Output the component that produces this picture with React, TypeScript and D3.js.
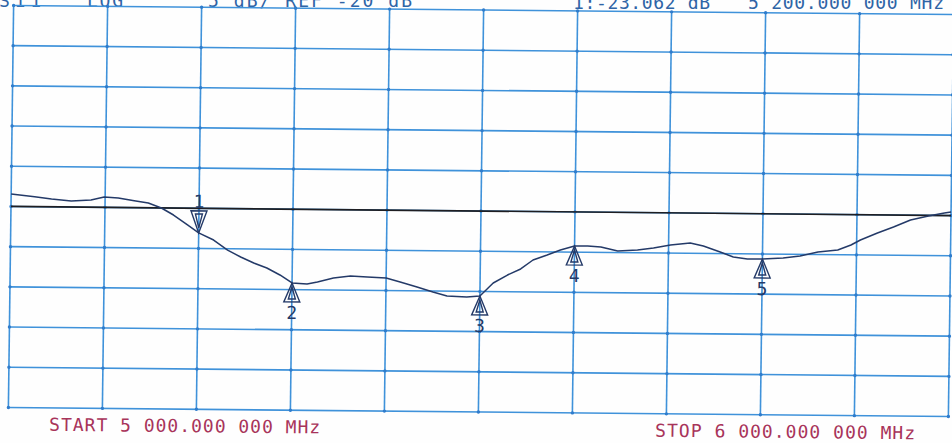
import React from "react";
import * as d3 from "d3";

const freqMHz = [5000, 5025, 5043, 5064, 5085, 5099, 5114, 5131, 5146, 5160, 5173, 5188, 5200, 5216, 5231, 5245, 5259, 5273, 5287, 5300, 5316, 5327, 5344, 5362, 5380, 5400, 5415, 5433, 5450, 5465, 5486, 5500, 5514, 5529, 5543, 5556, 5571, 5585, 5600, 5614, 5628, 5646, 5667, 5684, 5702, 5723, 5737, 5755, 5769, 5784, 5800, 5822, 5840, 5859, 5880, 5894, 5904, 5922, 5939, 5957, 5976, 5993, 6000];
const s11dB = [-18.45, -18.76, -19.03, -19.25, -19.1, -18.72, -18.82, -19.14, -19.4, -20.01, -20.87, -22.09, -23.06, -23.93, -25.16, -26.01, -26.74, -27.35, -28.2, -29.18, -29.29, -29.03, -28.51, -28.25, -28.35, -28.45, -28.93, -29.53, -30.14, -30.61, -30.71, -30.57, -28.94, -27.93, -27.16, -26.03, -25.39, -24.75, -24.24, -24.22, -24.33, -24.81, -24.66, -24.39, -24.0, -23.73, -24.08, -24.81, -25.41, -25.65, -25.63, -25.48, -25.21, -24.69, -24.42, -23.78, -23.15, -22.26, -21.49, -20.6, -20.08, -19.69, -19.55];

const markerIds = [1, 2, 3, 4, 5];
const markerFreq = [5200, 5300, 5500, 5600, 5800];
const markerDB = [-23.062, -29.18, -30.57, -24.24, -25.63];
const activeMarker = 1;

const refLevel = -20;
const dbPerDiv = 5;
const xDivisions = 10;
const yDivisions = 10;
const startMHz = 5000;
const stopMHz = 6000;

const headerLeft = ["S11", "LOG", "5 dB/ REF -20 dB"];
const headerRight = ["1:-23.062 dB", "5 200.000 000 MHz"];
const startLabel = "START 5 000.000 000 MHz";
const stopLabel = "STOP 6 000.000 000 MHz";

const W = 952;
const H = 443;
const L = 11, R = 951, T = 10, B = 412;

export default function App() {
  const x = d3.scaleLinear().domain([startMHz, stopMHz]).range([L, R]);
  const y = d3
    .scaleLinear()
    .domain([refLevel - (yDivisions / 2) * dbPerDiv, refLevel + (yDivisions / 2) * dbPerDiv])
    .range([B, T]);

  const xTicks = d3.range(xDivisions + 1).map((i) => startMHz + (i * (stopMHz - startMHz)) / xDivisions);
  const yTicks = d3.range(yDivisions + 1).map((i) => y.domain()[0] + i * dbPerDiv);

  const pts = freqMHz.map((f, i) => [f, s11dB[i]] as [number, number]);
  const line = d3
    .line<[number, number]>()
    .x((d) => x(d[0]))
    .y((d) => y(d[1]))
    .curve(d3.curveLinear);

  const gridColor = "#3f92da";
  const traceColor = "#243a68";
  const mono = "'DejaVu Sans Mono', 'Liberation Mono', monospace";

  const a = 0.013, b = 0.0097;
  const cx = 480, cy = (T + B) / 2;
  const tf = `matrix(1, ${b}, ${-a}, 1, ${a * cy}, ${-b * cx})`;

  return (
    <svg
      width={W}
      height={H}
      viewBox={`0 0 ${W} ${H}`}
      style={{ position: "absolute", left: 0, top: 0, background: "#fff" }}
    >
      <rect x={0} y={0} width={W} height={H} fill="#fefefe" />
      <g fontFamily={mono} fontSize={18} fill="#2f64a6">
        <text x={-1} y={7} textLength={42} lengthAdjust="spacing">{headerLeft[0]}</text>
        <text x={87} y={7} textLength={36} lengthAdjust="spacing">{headerLeft[1]}</text>
        <text x={208} y={7} textLength={204} lengthAdjust="spacing">{headerLeft[2]}</text>
        <text x={573} y={9} textLength={137} lengthAdjust="spacing">{headerRight[0]}</text>
        <text x={748} y={9} textLength={196} lengthAdjust="spacing">{headerRight[1]}</text>
      </g>
      <g transform={tf}>
        <g stroke={gridColor} strokeWidth={1.6} fill="none">
          {xTicks.map((t, i) => (
            <line key={"v" + i} x1={x(t)} x2={x(t)} y1={T} y2={B} />
          ))}
          {yTicks.map((t, i) => (
            <line key={"h" + i} x1={L} x2={R} y1={y(t)} y2={y(t)} />
          ))}
        </g>
        <g fill="#2f7ccc">
          {xTicks.map((tx, i) =>
            yTicks.map((ty, j) => (
              <circle key={`d${i}-${j}`} cx={x(tx)} cy={y(ty)} r={1.7} />
            ))
          )}
        </g>
        <line x1={L} x2={R} y1={y(refLevel)} y2={y(refLevel)} stroke="#1e1e22" strokeWidth={1.7} />
        <path d={line(pts) || ""} fill="none" stroke={traceColor} strokeWidth={1.5} strokeLinejoin="round" />
        <g stroke={traceColor} strokeWidth={1.4} fill="#fff" fontFamily={mono}>
          {markerIds.map((id, i) => {
            const mx = x(markerFreq[i]);
            const my = y(markerDB[i]);
            if (id === activeMarker) {
              return (
                <g key={"m" + id} transform={`translate(${mx},${my})`}>
                  <path d="M0,0 L-8,-22 L8,-22 Z" fill="none" />
                  <path d="M0,-5 L-3.5,-19 L3.5,-19 Z" fill="none" />
                  <text x={0} y={-25} textAnchor="middle" fontSize={18} fill={traceColor} stroke="none">
                    {id}
                  </text>
                </g>
              );
            }
            return (
              <g key={"m" + id} transform={`translate(${mx},${my})`}>
                <path d="M0,0 L-8,19 L8,19 Z" fill="none" />
                <path d="M0,4 L-3.5,16 L3.5,16 Z" fill="none" />
                <text x={0} y={36} textAnchor="middle" fontSize={18} fill={traceColor} stroke="none">
                  {id}
                </text>
              </g>
            );
          })}
        </g>
        <g fontFamily={mono} fontSize={18} fill="#a8345a">
          <text x={52} y={435} textLength={271} lengthAdjust="spacing">{startLabel}</text>
          <text x={658} y={435} textLength={260} lengthAdjust="spacing">{stopLabel}</text>
        </g>
      </g>
    </svg>
  );
}
